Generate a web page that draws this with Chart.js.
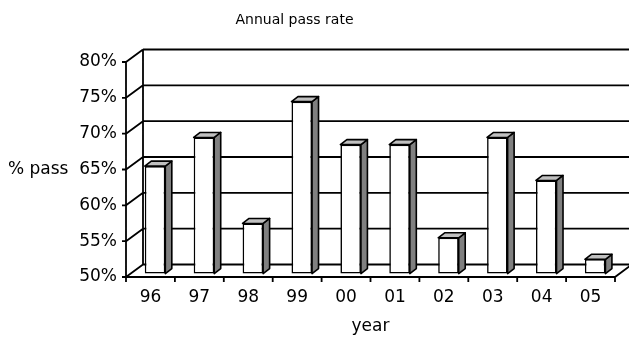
<!DOCTYPE html>
<html>
<head>
<meta charset="utf-8">
<script src="https://cdn.jsdelivr.net/npm/chart.js@4.4.0/dist/chart.umd.min.js"></script>
<style>
  html, body { margin: 0; padding: 0; background: #fff; }
</style>
</head>
<body>
<canvas id="passChart" width="629" height="339"></canvas>
<script>
const years = ['96', '97', '98', '99', '00', '01', '02', '03', '04', '05'];
const passRates = [65, 69, 57, 74, 68, 68, 55, 69, 63, 52];
const yTicks = [50, 55, 60, 65, 70, 75, 80];

const FONT = '"DejaVu Sans", Verdana, sans-serif';
const WALL = { dx: 17, dy: 12.5 };      // depth of the 3D box
const BAR_SHIFT = { dx: 4.6, dy: 3.4 }; // bars stand a little behind the front edge
const BAR_DEPTH = { dx: 6.5, dy: 5 };

// draws the walls/floor of the 3D box and the side and top faces of the bars
const box3d = {
  id: 'box3d',
  beforeDatasetsDraw(chart) {
    const ctx = chart.ctx;
    const { left, right, top, bottom } = chart.chartArea;
    const yScale = chart.scales.y;
    const xScale = chart.scales.x;
    ctx.save();
    ctx.strokeStyle = '#000';
    ctx.lineWidth = 1.8;
    ctx.beginPath();
    yTicks.forEach(v => {
      const py = yScale.getPixelForValue(v);
      ctx.moveTo(left + WALL.dx, py - WALL.dy);
      ctx.lineTo(right + WALL.dx, py - WALL.dy);
      ctx.moveTo(left, py);
      ctx.lineTo(left + WALL.dx, py - WALL.dy);
      ctx.moveTo(left - 4, py);
      ctx.lineTo(left, py);
    });
    ctx.moveTo(left, top);
    ctx.lineTo(left, bottom);
    ctx.moveTo(left + WALL.dx, top - WALL.dy);
    ctx.lineTo(left + WALL.dx, bottom - WALL.dy);
    ctx.moveTo(left, bottom);
    ctx.lineTo(right, bottom);
    ctx.lineTo(right + WALL.dx, bottom - WALL.dy);
    const half = (xScale.getPixelForValue(1) - xScale.getPixelForValue(0)) / 2;
    for (let i = 0; i <= years.length; i++) {
      const px = i < years.length ? xScale.getPixelForValue(i) - half : xScale.getPixelForValue(i - 1) + half;
      ctx.moveTo(px, bottom);
      ctx.lineTo(px, bottom + 5);
    }
    ctx.stroke();

    ctx.fillStyle = '#000';
    ctx.textBaseline = 'middle';
    // chart title
    ctx.font = '14px ' + FONT;
    ctx.textAlign = 'center';
    ctx.fillText('Annual pass rate', chart.width / 2 - 20, 20);
    // horizontal y axis title
    ctx.font = '17px ' + FONT;
    ctx.textAlign = 'left';
    ctx.fillText('% pass', 8, (top + bottom) / 2);
    ctx.restore();

    ctx.save();
    ctx.translate(BAR_SHIFT.dx, -BAR_SHIFT.dy);
  },
  afterDatasetsDraw(chart) {
    const ctx = chart.ctx;
    const meta = chart.getDatasetMeta(0);
    ctx.strokeStyle = '#000';
    ctx.lineWidth = 1.6;
    ctx.lineJoin = 'round';
    meta.data.forEach(bar => {
      const { x, y, base, width } = bar.getProps(['x', 'y', 'base', 'width'], true);
      const l = x - width / 2;
      const r = x + width / 2;
      // side face
      ctx.beginPath();
      ctx.moveTo(r, y);
      ctx.lineTo(r + BAR_DEPTH.dx, y - BAR_DEPTH.dy);
      ctx.lineTo(r + BAR_DEPTH.dx, base - BAR_DEPTH.dy);
      ctx.lineTo(r, base);
      ctx.closePath();
      ctx.fillStyle = '#808080';
      ctx.fill();
      ctx.stroke();
      // top face
      ctx.beginPath();
      ctx.moveTo(l, y);
      ctx.lineTo(l + BAR_DEPTH.dx, y - BAR_DEPTH.dy);
      ctx.lineTo(r + BAR_DEPTH.dx, y - BAR_DEPTH.dy);
      ctx.lineTo(r, y);
      ctx.closePath();
      ctx.fillStyle = '#c0c0c0';
      ctx.fill();
      ctx.stroke();
    });
    ctx.restore();
  }
};

new Chart(document.getElementById('passChart'), {
  type: 'bar',
  data: {
    labels: years,
    datasets: [{
      label: '% pass',
      data: passRates,
      base: 50,
      backgroundColor: '#fff',
      borderColor: '#000',
      borderWidth: 1.6,
      borderSkipped: false,
      categoryPercentage: 1,
      barPercentage: 0.42,
      clip: false
    }]
  },
  options: {
    responsive: false,
    animation: false,
    devicePixelRatio: 1,
    layout: { padding: { top: 62, right: 14, left: 0, bottom: 0 } },
    plugins: {
      legend: { display: false },
      tooltip: { enabled: false },
      title: { display: false }
    },
    scales: {
      x: {
        grid: { display: false, drawTicks: false },
        border: { display: false },
        ticks: { color: '#000', font: { family: FONT, size: 17 }, padding: 10, maxRotation: 0 },
        title: {
          display: true,
          text: 'year',
          color: '#000',
          font: { family: FONT, size: 17 },
          padding: { top: 0, bottom: 2 }
        },
        afterFit(scale) { scale.height = 62; }
      },
      y: {
        min: 50,
        max: 80,
        beginAtZero: false,
        grid: { display: false, drawTicks: false },
        border: { display: false },
        ticks: {
          color: '#000',
          font: { family: FONT, size: 17 },
          padding: 9,
          callback: v => v + '%'
        },
        afterBuildTicks(scale) { scale.ticks = yTicks.map(v => ({ value: v })); },
        afterFit(scale) { scale.width = 126; }
      }
    }
  },
  plugins: [box3d]
});
</script>
</body>
</html>
